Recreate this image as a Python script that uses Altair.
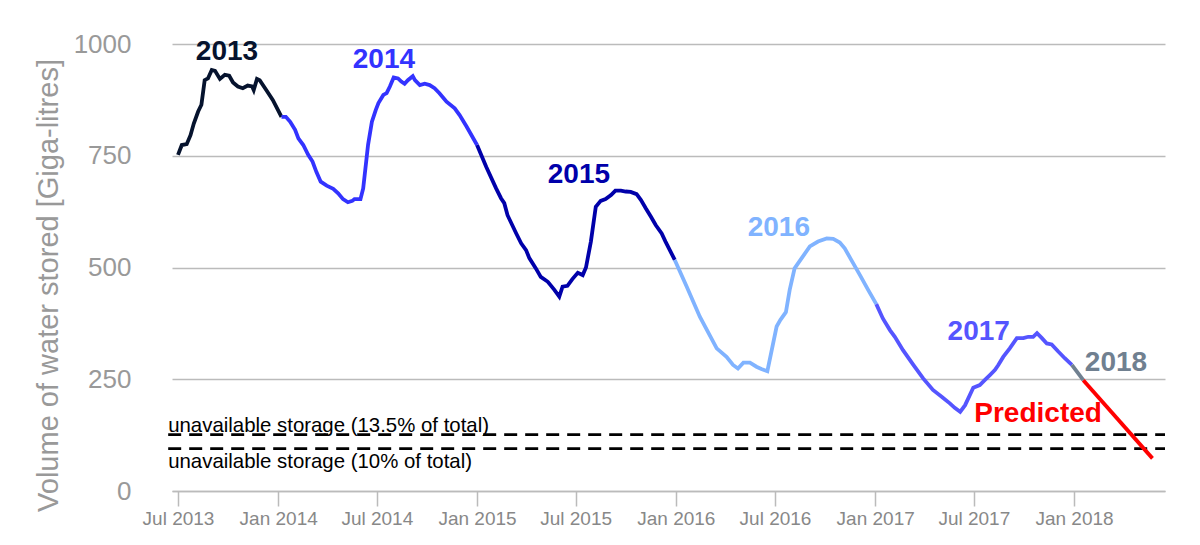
import altair as alt
import pandas as pd

FONT = "Liberation Sans"

segments = ["2013", "2014", "2015", "2016", "2017", "2018", "Predicted"]
seg_colors = ["#06132e", "#3333ff", "#0000aa", "#80b3ff", "#5555ff", "#708090", "#ff0000"]

d13 = ["2013-07-01", "2013-07-08", "2013-07-17", "2013-07-24", "2013-07-30", "2013-08-07",
       "2013-08-13", "2013-08-19", "2013-08-25", "2013-09-01", "2013-09-07", "2013-09-16",
       "2013-09-25", "2013-10-03", "2013-10-10", "2013-10-19", "2013-10-28", "2013-11-06",
       "2013-11-14", "2013-11-17", "2013-11-23", "2013-11-28", "2013-12-10", "2013-12-22",
       "2014-01-07"]
v13 = [752, 774, 776, 796, 822, 849, 864, 919, 923, 942, 940, 922, 931, 929, 914, 905, 901,
       907, 905, 897, 922, 919, 897, 875, 837]

d14 = ["2014-01-07", "2014-01-15", "2014-01-23", "2014-02-01", "2014-02-07", "2014-02-16",
       "2014-02-25", "2014-03-05", "2014-03-12", "2014-03-20", "2014-03-31", "2014-04-12",
       "2014-04-21", "2014-04-30", "2014-05-09", "2014-05-17", "2014-05-21", "2014-06-01",
       "2014-06-06", "2014-06-15", "2014-06-22", "2014-06-29", "2014-07-04", "2014-07-13",
       "2014-07-19", "2014-07-25", "2014-08-01", "2014-08-09", "2014-08-15", "2014-08-21",
       "2014-08-27", "2014-09-05", "2014-09-09", "2014-09-18", "2014-09-27", "2014-10-06",
       "2014-10-15", "2014-10-24", "2014-11-06", "2014-11-21", "2014-11-30", "2014-12-13",
       "2015-01-01"]
v14 = [837, 837, 826, 808, 789, 774, 752, 737, 714, 692, 683, 676, 666, 653, 646, 649, 653,
       653, 677, 775, 826, 852, 868, 886, 890, 905, 925, 923, 916, 911, 919, 928, 919, 908,
       911, 908, 901, 890, 871, 856, 841, 815, 774]

d15 = ["2015-01-01", "2015-01-18", "2015-02-05", "2015-02-14", "2015-02-20", "2015-02-26",
       "2015-03-14", "2015-03-23", "2015-04-01", "2015-04-07", "2015-04-19", "2015-04-28",
       "2015-05-11", "2015-05-23", "2015-06-01", "2015-06-07", "2015-06-16", "2015-06-25",
       "2015-07-05", "2015-07-14", "2015-07-20", "2015-07-29", "2015-08-07", "2015-08-16",
       "2015-08-25", "2015-09-04", "2015-09-12", "2015-09-22", "2015-10-01", "2015-10-10",
       "2015-10-21", "2015-10-29", "2015-11-07", "2015-11-16", "2015-11-25", "2015-12-06",
       "2015-12-13", "2015-12-30"]
v15 = [774, 725, 677, 655, 644, 617, 576, 554, 539, 521, 498, 479, 468, 450, 435, 457, 459,
       474, 488, 483, 500, 558, 636, 649, 653, 662, 672, 672, 670, 669, 664, 651, 632, 614,
       595, 576, 558, 517]

d16 = ["2015-12-30", "2016-01-21", "2016-02-14", "2016-03-16", "2016-04-03", "2016-04-15",
       "2016-04-24", "2016-05-04", "2016-05-16", "2016-05-28", "2016-06-06", "2016-06-17",
       "2016-07-04", "2016-07-11", "2016-07-21", "2016-07-28", "2016-08-06", "2016-08-19",
       "2016-09-03", "2016-09-18", "2016-10-04", "2016-10-16", "2016-10-28", "2016-11-06",
       "2016-11-18", "2016-12-04", "2016-12-19", "2017-01-03"]
v16 = [517, 457, 390, 319, 300, 282, 274, 287, 287, 278, 273, 268, 368, 383, 400, 450, 498,
       521, 547, 558, 565, 564, 556, 543, 517, 483, 450, 418]

d17 = ["2017-01-03", "2017-01-15", "2017-01-28", "2017-02-06", "2017-02-21", "2017-03-12",
       "2017-03-30", "2017-04-17", "2017-05-03", "2017-05-18", "2017-05-27", "2017-06-06",
       "2017-06-15", "2017-06-30", "2017-07-12", "2017-07-21", "2017-07-31", "2017-08-09",
       "2017-08-15", "2017-08-24", "2017-09-05", "2017-09-18", "2017-09-30", "2017-10-09",
       "2017-10-18", "2017-10-25", "2017-11-03", "2017-11-12", "2017-11-21", "2017-12-03",
       "2017-12-15", "2017-12-28"]
v17 = [418, 386, 360, 345, 315, 282, 252, 226, 211, 196, 186, 177, 192, 231, 237, 248, 260,
       271, 282, 300, 319, 342, 342, 345, 345, 353, 342, 330, 328, 312, 297, 282]

d18 = ["2017-12-28", "2018-01-18"]
v18 = [282, 248]

d_pred = ["2018-01-18", "2018-05-25"]
v_pred = [248, 73]

label_text = ["2013", "2014", "2015", "2016", "2017", "2018", "Predicted"]
label_date = ["2013-09-29", "2014-07-14", "2015-07-07", "2016-07-08", "2017-07-10",
              "2018-03-19", "2017-10-27"]
label_vol = [982, 964, 707, 588, 356, 286, 172]

limit_vol = [126, 95]
limit_text = ["unavailable storage (13.5% of total)", "unavailable storage (10% of total)"]
limit_text_vol = [133, 51]
limit_start = "2013-06-13"
limit_end = "2018-06-17"

y_ticks = [0, 250, 500, 750, 1000]
x_tick_months = [(2013, 7), (2014, 1), (2014, 7), (2015, 1), (2015, 7), (2016, 1),
                 (2016, 7), (2017, 1), (2017, 7), (2018, 1)]

# ---- tables ----
rows = []
for name, ds, vs in zip(segments, [d13, d14, d15, d16, d17, d18, d_pred],
                        [v13, v14, v15, v16, v17, v18, v_pred]):
    for d, v in zip(ds, vs):
        rows.append({"date": d, "vol": v, "seg": name})
df = pd.DataFrame(rows)
df["date"] = pd.to_datetime(df["date"])

labels = pd.DataFrame({"text": label_text, "date": pd.to_datetime(label_date),
                       "vol": label_vol, "color": seg_colors})
limits = pd.DataFrame({"vol": limit_vol, "x0": pd.to_datetime([limit_start] * 2),
                       "x1": pd.to_datetime([limit_end] * 2)})
limit_labels = pd.DataFrame({"text": limit_text, "vol": limit_text_vol,
                             "date": pd.to_datetime([limit_start] * 2)})

x_scale = alt.Scale(domain=[alt.DateTime(year=2013, month=6, date=20),
                            alt.DateTime(year=2018, month=6, date=17)])
y_scale = alt.Scale(domain=[0, 1000])

x_axis = alt.Axis(
    values=[alt.DateTime(year=y, month=m, date=1) for y, m in x_tick_months],
    format="%b %Y", title=None, grid=False,
    labelFont=FONT, labelFontSize=19, labelColor="#888888", labelPadding=3,
    tickColor="#bbbbbb", tickSize=15, tickWidth=1.5,
    domainColor="#bbbbbb", domainWidth=1.5,
)
y_axis = alt.Axis(
    values=y_ticks, format="d", ticks=False, domain=False,
    gridColor="#bbbbbb", gridWidth=1.5,
    labelFont=FONT, labelFontSize=26, labelColor="#999999", labelPadding=41,
    title="Volume of water stored [Giga-litres]", titleFont=FONT, titleFontSize=29,
    titleColor="#999999", titleFontWeight="normal", titleAngle=-90,
    titleX=-115, titleY=241, titleAlign="center", titleBaseline="alphabetic",
)

lines = alt.Chart(df).mark_line(strokeWidth=3.8).encode(
    x=alt.X("date:T", scale=x_scale, axis=x_axis),
    y=alt.Y("vol:Q", scale=y_scale, axis=y_axis),
    color=alt.Color("seg:N", scale=alt.Scale(domain=segments, range=seg_colors), legend=None),
    detail="seg:N",
)

rules = alt.Chart(limits).mark_rule(strokeDash=[13, 8], strokeWidth=2.8, color="black").encode(
    x=alt.X("x0:T", scale=x_scale, axis=x_axis),
    x2="x1:T",
    y=alt.Y("vol:Q", scale=y_scale, axis=y_axis),
)

year_text = alt.Chart(labels).mark_text(
    font=FONT, fontSize=28, fontWeight="bold", align="center", baseline="middle"
).encode(
    x=alt.X("date:T", scale=x_scale, axis=x_axis),
    y=alt.Y("vol:Q", scale=y_scale, axis=y_axis),
    text="text:N",
    color=alt.Color("color:N", scale=None),
)

limit_text_layer = alt.Chart(limit_labels).mark_text(
    font=FONT, fontSize=20.4, align="left", baseline="alphabetic", color="black"
).encode(
    x=alt.X("date:T", scale=x_scale, axis=x_axis),
    y=alt.Y("vol:Q", scale=y_scale, axis=y_axis),
    text="text:N",
)

chart = alt.layer(rules, lines, year_text, limit_text_layer).properties(
    width=993, height=447,
    padding={"left": 164, "top": 36, "right": 27, "bottom": 40},
    autosize=alt.AutoSizeParams(type="none"),
).configure_view(stroke=None)

chart.save("out.html", embed_options={"renderer": "svg", "actions": False})
